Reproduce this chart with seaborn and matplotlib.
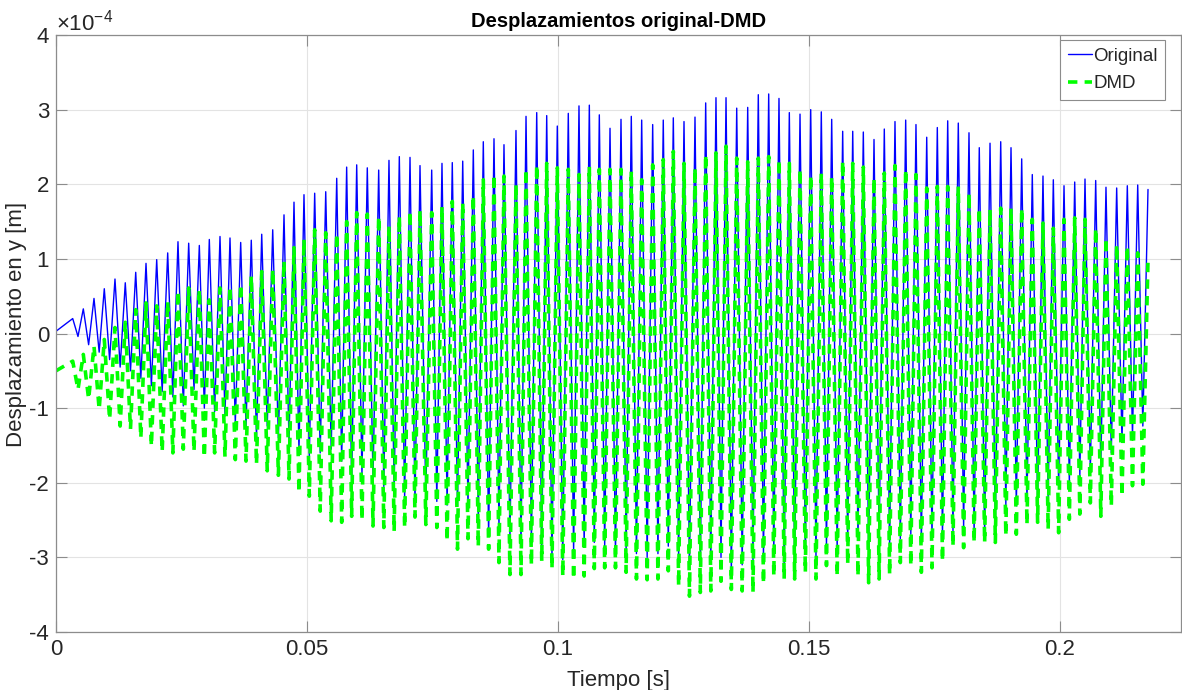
import numpy as np
import pandas as pd
import seaborn as sns
import matplotlib
matplotlib.use("Agg")
import matplotlib.pyplot as plt
from matplotlib.ticker import ScalarFormatter, MultipleLocator

# ---------------- data (displacements in units of 1e-4 m, time in s) ----------------
UNIT = 1e-4

t_start = 0.0
orig_start = 0.03
dmd_start = -0.50

# time of each oscillation crest
t_peak = [
    0.00333, 0.00544, 0.00757, 0.00962, 0.01175, 0.01380, 0.01588, 0.01793, 0.02006, 0.02225,
    0.02430, 0.02643, 0.02855, 0.03054, 0.03267, 0.03466, 0.03679, 0.03890, 0.04098, 0.04317,
    0.04542, 0.04741, 0.04940, 0.05153, 0.05373, 0.05592, 0.05790, 0.05990, 0.06201, 0.06428,
    0.06633, 0.06839, 0.07052, 0.07251, 0.07484, 0.07689, 0.07894, 0.08102, 0.08313, 0.08512,
    0.08725, 0.08924, 0.09163, 0.09363, 0.09576, 0.09775, 0.09986, 0.10205, 0.10418, 0.10624,
    0.10823, 0.11036, 0.11255, 0.11460, 0.11667, 0.11886, 0.12097, 0.12297, 0.12510, 0.12729,
    0.12942, 0.13147, 0.13347, 0.13560, 0.13779, 0.13990, 0.14197, 0.14402, 0.14608, 0.14821,
    0.15034, 0.15245, 0.15452, 0.15671, 0.15871, 0.16082, 0.16295, 0.16500, 0.16713, 0.16926,
    0.17131, 0.17345, 0.17556, 0.17763, 0.17974, 0.18187, 0.18392, 0.18606, 0.18819, 0.19024,
    0.19237, 0.19448, 0.19661, 0.19867, 0.20080, 0.20293, 0.20498, 0.20711, 0.20916, 0.21129,
    0.21341, 0.21548, 0.21753,
]

# time of each oscillation trough
t_trough = [
    0.00438, 0.00650, 0.00860, 0.01068, 0.01278, 0.01484, 0.01690, 0.01900, 0.02115, 0.02328,
    0.02536, 0.02749, 0.02955, 0.03160, 0.03366, 0.03572, 0.03785, 0.03994, 0.04208, 0.04430,
    0.04642, 0.04840, 0.05046, 0.05263, 0.05482, 0.05691, 0.05890, 0.06095, 0.06315, 0.06530,
    0.06736, 0.06945, 0.07151, 0.07367, 0.07586, 0.07791, 0.07998, 0.08207, 0.08412, 0.08618,
    0.08824, 0.09043, 0.09263, 0.09470, 0.09676, 0.09880, 0.10095, 0.10311, 0.10521, 0.10723,
    0.10930, 0.11145, 0.11357, 0.11563, 0.11776, 0.11991, 0.12197, 0.12403, 0.12619, 0.12835,
    0.13044, 0.13247, 0.13453, 0.13669, 0.13884, 0.14093, 0.14299, 0.14505, 0.14714, 0.14927,
    0.15139, 0.15348, 0.15561, 0.15771, 0.15976, 0.16188, 0.16397, 0.16606, 0.16819, 0.17028,
    0.17238, 0.17450, 0.17659, 0.17868, 0.18080, 0.18289, 0.18499, 0.18712, 0.18921, 0.19130,
    0.19342, 0.19554, 0.19764, 0.19973, 0.20186, 0.20395, 0.20604, 0.20813, 0.21022, 0.21235,
    0.21444, 0.21650,
]

orig_max = [
    0.20, 0.33, 0.47, 0.60, 0.73, 0.68, 0.82, 0.94, 0.99, 1.08,
    1.23, 1.21, 1.18, 1.26, 1.30, 1.28, 1.22, 1.25, 1.33, 1.39,
    1.59, 1.76, 1.86, 1.88, 1.90, 2.08, 2.23, 2.26, 2.22, 2.19,
    2.32, 2.37, 2.36, 2.25, 2.19, 2.28, 2.29, 2.31, 2.46, 2.57,
    2.61, 2.53, 2.72, 2.91, 2.96, 2.92, 2.78, 2.95, 3.05, 3.06,
    2.93, 2.75, 2.87, 2.91, 2.86, 2.80, 2.86, 2.89, 2.84, 2.90,
    3.09, 3.16, 3.16, 3.02, 3.03, 3.20, 3.21, 3.15, 2.96, 2.94,
    3.00, 2.97, 2.87, 2.71, 2.71, 2.70, 2.60, 2.74, 2.84, 2.86,
    2.80, 2.63, 2.76, 2.85, 2.82, 2.69, 2.49, 2.55, 2.57, 2.49,
    2.34, 2.13, 2.11, 2.06, 1.98, 2.03, 2.07, 2.05, 1.96, 1.95,
    1.98, 1.99, 1.93,
]

orig_min = [
    -0.04, -0.15, -0.25, -0.35, -0.45, -0.50, -0.60, -0.70, -0.78, -0.85,
    -0.97, -0.75, -1.00, -1.05, -1.10, -1.20, -1.25, -1.39, -1.24, -1.40,
    -1.46, -1.58, -1.66, -1.60, -1.55, -1.71, -2.00, -1.90, -1.95, -2.05,
    -2.10, -2.20, -2.29, -2.20, -2.25, -2.30, -2.31, -2.33, -2.50, -2.71,
    -2.60, -2.75, -2.85, -2.80, -2.90, -3.03, -3.03, -2.93, -2.85, -2.80,
    -2.85, -2.96, -2.90, -2.95, -3.00, -2.95, -2.85, -3.00, -3.15, -3.10,
    -3.07, -3.00, -3.20, -3.10, -3.05, -3.00, -2.95, -3.12, -3.05, -2.95,
    -3.00, -2.85, -2.90, -2.80, -2.76, -2.90, -2.78, -2.85, -2.75, -2.69,
    -2.80, -2.75, -2.71, -2.65, -2.60, -2.67, -2.67, -2.55, -2.31, -2.31,
    -2.25, -2.26, -2.20, -2.04, -2.00, -1.91, -1.85, -1.78, -1.60, -1.46,
    -1.37, -1.24,
]

dmd_max = [
    -0.37, -0.28, -0.17, -0.08, 0.08, 0.15, 0.32, 0.41, 0.37, 0.43,
    0.57, 0.61, 0.59, 0.45, 0.61, 0.63, 0.66, 0.77, 0.83, 0.86,
    0.97, 1.15, 1.26, 1.39, 1.35, 1.34, 1.50, 1.62, 1.60, 1.57,
    1.44, 1.57, 1.64, 1.65, 1.62, 1.70, 1.77, 1.75, 1.85, 2.06,
    2.13, 2.11, 2.00, 2.20, 2.26, 2.28, 2.22, 2.20, 2.13, 2.24,
    2.20, 2.20, 2.20, 2.18, 2.06, 2.26, 2.33, 2.44, 2.28, 2.22,
    2.40, 2.42, 2.51, 2.35, 2.30, 2.35, 2.37, 2.33, 2.28, 2.20,
    2.12, 2.15, 2.10, 2.31, 2.28, 2.23, 2.08, 2.15, 2.25, 2.20,
    2.13, 1.95, 1.97, 1.97, 1.97, 1.88, 1.68, 1.66, 1.68, 1.68,
    1.68, 1.53, 1.48, 1.41, 1.53, 1.55, 1.53, 1.41, 1.28, 1.19,
    1.17, 1.08, 0.99,
]

dmd_min = [
    -0.75, -0.88, -1.02, -1.15, -1.24, -1.28, -1.40, -1.51, -1.58, -1.60,
    -1.55, -1.58, -1.66, -1.60, -1.65, -1.69, -1.71, -1.75, -1.84, -1.90,
    -1.95, -2.13, -2.18, -2.38, -2.51, -2.53, -2.45, -2.50, -2.58, -2.60,
    -2.65, -2.60, -2.46, -2.56, -2.60, -2.78, -2.89, -2.75, -2.85, -2.89,
    -3.07, -3.23, -3.23, -3.10, -3.05, -3.15, -3.25, -3.29, -3.25, -3.15,
    -3.14, -3.14, -3.20, -3.29, -3.30, -3.29, -3.18, -3.38, -3.52, -3.47,
    -3.45, -3.32, -3.43, -3.45, -3.47, -3.35, -3.25, -3.29, -3.29, -3.20,
    -3.29, -3.11, -3.25, -3.09, -3.25, -3.34, -3.29, -3.23, -3.07, -3.11,
    -3.20, -3.14, -3.05, -2.85, -2.87, -2.80, -2.80, -2.80, -2.71, -2.69,
    -2.56, -2.53, -2.62, -2.67, -2.49, -2.42, -2.27, -2.45, -2.31, -2.18,
    -2.04, -2.02,
]

series_names = ["Original", "DMD"]
title_text = "Desplazamientos original-DMD"
xlabel_text = "Tiempo [s]"
ylabel_text = "Desplazamiento en y [m]"
x_ticks = [0, 0.05, 0.1, 0.15, 0.2]
x_tick_labels = ["0", "0.05", "0.1", "0.15", "0.2"]


# ---------------- assemble the traces (crest, trough, crest, ...) ----------------
def interleave(start, crests, troughs):
    out = [start]
    for i, c in enumerate(crests):
        out.append(c)
        if i < len(troughs):
            out.append(troughs[i])
    return out


t_all = interleave(t_start, t_peak, t_trough)
orig_all = np.array(interleave(orig_start, orig_max, orig_min)) * UNIT
dmd_all = np.array(interleave(dmd_start, dmd_max, dmd_min)) * UNIT

df = pd.DataFrame({"t": t_all, "Original": orig_all, "DMD": dmd_all})


class MatlabSciFormatter(ScalarFormatter):
    """Plain hyphen tick labels with a shared x10^n exponent on top."""

    def __call__(self, x, pos=None):
        if len(self.locs) == 0:
            return ""
        v = x / (10 ** self.orderOfMagnitude)
        v = 0.0 if abs(v) < 1e-9 else v
        return f"{v:g}"


# ---------------- style ----------------
sns.set_theme(style="white")
plt.rcParams["font.family"] = ["Liberation Sans", "DejaVu Sans"]
plt.rcParams["axes.unicode_minus"] = False
plt.rcParams["mathtext.fontset"] = "custom"
plt.rcParams["mathtext.rm"] = "Liberation Sans"
plt.rcParams["mathtext.it"] = "Liberation Sans"

fig = plt.figure(figsize=(11.82, 6.90), dpi=100)
ax = fig.add_axes([56 / 1182, 1 - 632 / 690, (1181 - 56) / 1182, (632 - 35) / 690])

sns.lineplot(data=df, x="t", y="Original", ax=ax, estimator=None, sort=False,
             color="#0000ff", linewidth=1.0, label=series_names[0])
sns.lineplot(data=df, x="t", y="DMD", ax=ax, estimator=None, sort=False,
             color="#00ff00", linewidth=2.6, linestyle=(0, (2.6, 2.0)),
             label=series_names[1])

ax.set_xlim(0, (1181 - 56) / 5020)
ax.set_ylim(-4e-4, 4e-4)
ax.set_xticks(x_ticks)
ax.set_xticklabels(x_tick_labels)
ax.yaxis.set_major_locator(MultipleLocator(1e-4))
fmt = MatlabSciFormatter(useMathText=True)
fmt.set_powerlimits((0, 0))
ax.yaxis.set_major_formatter(fmt)

text_col = "#262626"
ax.grid(True, color="#e3e3e3", linewidth=0.8)
for s in ax.spines.values():
    s.set_color("#8c8c8c")
    s.set_linewidth(0.9)
ax.tick_params(direction="in", length=8, width=0.8, color="#8c8c8c",
               labelsize=16, labelcolor=text_col, top=True, right=True,
               left=True, bottom=True, pad=5)
ax.yaxis.get_offset_text().set_fontsize(16)
ax.yaxis.get_offset_text().set_color(text_col)

ax.set_title(title_text, fontsize=14.5, fontweight="bold", color="black", pad=6)
ax.set_xlabel(xlabel_text, fontsize=16, color=text_col, labelpad=7)
ax.set_ylabel(ylabel_text, fontsize=16, color=text_col)
ax.yaxis.set_label_coords(-0.026, 0.515)

leg = ax.legend(loc="upper right", bbox_to_anchor=(0.9858, 0.9916), fontsize=13.5,
                frameon=True, fancybox=False, edgecolor="#8c8c8c",
                framealpha=1, borderpad=0.4, handlelength=1.3, handletextpad=0.05,
                labelspacing=0.55, borderaxespad=0.0)
leg.get_frame().set_linewidth(0.8)

fig.savefig("out.png", dpi=100)
